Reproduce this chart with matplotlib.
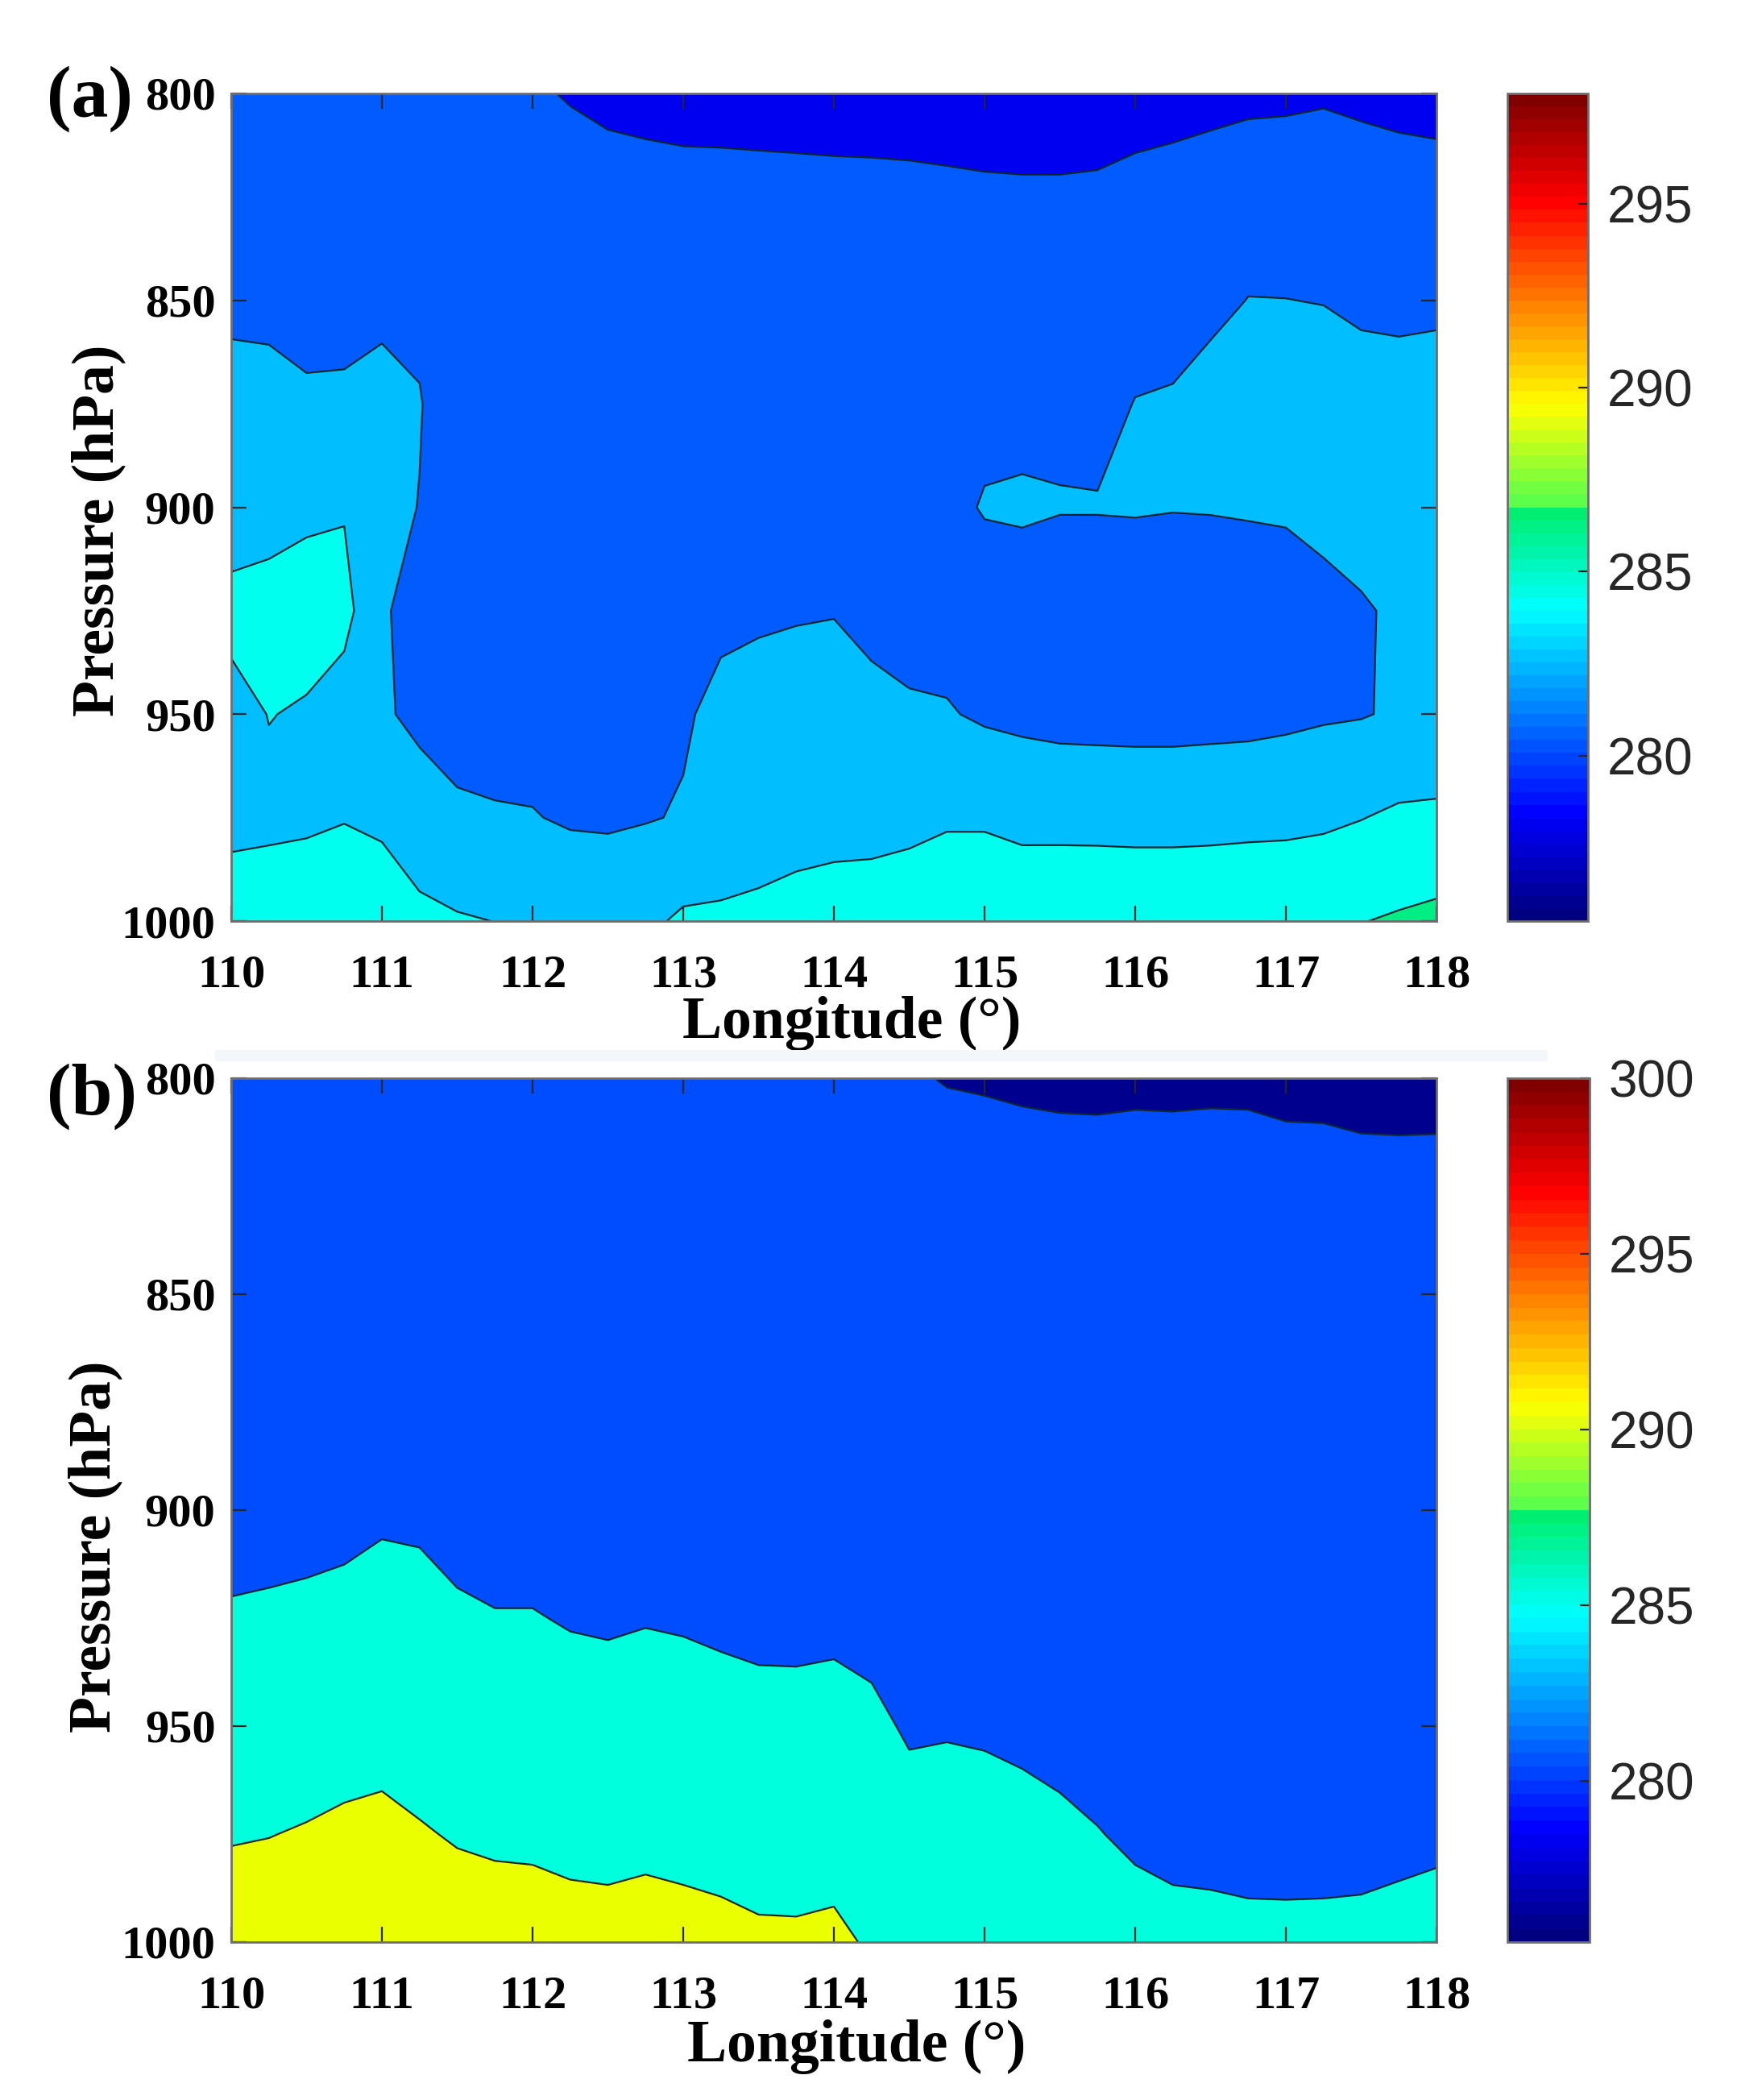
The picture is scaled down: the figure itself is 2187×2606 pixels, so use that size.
import numpy as np
import matplotlib
matplotlib.use("Agg")
import matplotlib.pyplot as plt
from matplotlib.colors import LinearSegmentedColormap, Normalize
from matplotlib.patches import Rectangle
import matplotlib.cm as cm

plt.rcParams['font.family'] = ['Liberation Serif', 'DejaVu Serif']
plt.rcParams['font.weight'] = 'bold'

# grid of the reanalysis section
lon = [110.0, 110.25, 110.5, 110.75, 111.0, 111.25, 111.5, 111.75,
       112.0, 112.25, 112.5, 112.75, 113.0, 113.25, 113.5, 113.75,
       114.0, 114.25, 114.5, 114.75, 115.0, 115.25, 115.5, 115.75,
       116.0, 116.25, 116.5, 116.75, 117.0, 117.25, 117.5, 117.75, 118.0]
pres = [800, 825, 850, 875, 900, 925, 950, 975, 1000]

# temperature (K), one list per longitude, from 800 down to 1000 hPa
temp_a_cols = [
    [281.0, 281.4, 281.7, 282.5, 283.0, 284.6, 283.3, 283.6, 284.8],
    [281.0, 281.3, 281.7, 282.4, 283.2, 284.8, 284.05, 283.57, 285.17],
    [281.0, 281.3, 281.6, 282.17, 283.7, 284.73, 283.83, 283.8, 284.8],
    [281.0, 281.3, 281.6, 282.2, 283.85, 284.67, 282.96, 283.95, 284.8],
    [281.0, 281.4, 281.8, 282.28, 282.6, 282.1, 282.4, 283.8, 284.65],
    [281.0, 281.3, 281.6, 282.1, 281.95, 281.68, 281.29, 283.5, 284.2],
    [280.8, 281.1, 281.0, 280.85, 281.0, 281.1, 281.3, 282.29, 284.17],
    [280.6, 281.0, 280.9, 280.9, 281.0, 281.1, 281.3, 282.14, 283.98],
    [280.25, 280.9, 280.9, 280.9, 281.0, 281.0, 281.3, 282.08, 283.5],
    [279.86, 281.0, 281.0, 281.0, 281.0, 281.0, 281.2, 281.8, 283.47],
    [279.46, 281.0, 281.0, 281.0, 281.0, 281.0, 281.2, 281.8, 283.08],
    [279.21, 281.0, 281.0, 281.0, 281.0, 281.1, 281.3, 281.9, 283.6],
    [278.96, 281.0, 281.0, 281.0, 281.0, 281.3, 281.84, 282.11, 284.31],
    [278.9, 281.0, 281.0, 281.0, 281.1, 281.72, 282.34, 283.0, 284.25],
    [278.77, 281.0, 281.0, 281.0, 281.2, 281.8, 282.56, 283.4, 284.28],
    [278.64, 281.0, 281.0, 281.1, 281.4, 281.9, 282.58, 283.5, 284.46],
    [278.47, 281.0, 281.0, 281.1, 281.5, 281.95, 282.58, 283.6, 284.53],
    [278.37, 281.0, 281.0, 281.2, 281.5, 281.6, 282.42, 283.6, 284.6],
    [278.16, 281.0, 281.0, 281.2, 281.5, 281.4, 282.2, 283.7, 284.7],
    [277.67, 281.0, 281.0, 281.2, 281.5, 281.3, 282.13, 283.85, 284.95],
    [276.9, 281.0, 281.2, 281.5, 282.13, 281.0, 281.76, 283.73, 285.7],
    [276.37, 281.0, 281.2, 281.3, 282.33, 280.65, 281.58, 283.49, 285.4],
    [276.37, 281.0, 281.2, 281.45, 282.15, 280.1, 281.42, 283.46, 285.49],
    [277.15, 281.0, 281.0, 281.21, 282.15, 280.1, 281.38, 283.44, 285.5],
    [278.64, 281.0, 280.98, 282.07, 282.2, 280.2, 281.35, 283.41, 285.46],
    [279.09, 281.0, 281.0, 282.24, 282.1, 280.15, 281.35, 283.41, 285.46],
    [279.44, 281.0, 281.5, 282.8, 282.15, 280.15, 281.41, 283.45, 285.49],
    [279.67, 281.0, 282.04, 282.8, 282.25, 280.36, 281.46, 283.51, 285.56],
    [279.72, 281.0, 282.02, 282.8, 282.4, 280.36, 281.61, 283.57, 285.53],
    [279.83, 281.0, 281.95, 283.0, 282.6, 281.37, 281.8, 283.7, 285.6],
    [279.63, 281.0, 281.7, 282.74, 282.9, 281.79, 281.9, 283.95, 285.95],
    [279.39, 281.0, 281.6, 282.74, 283.0, 282.31, 282.2, 284.3, 286.2],
    [279.21, 281.0, 281.7, 282.74, 283.0, 282.8, 282.31, 284.38, 286.45],
]

temp_b_cols = [
    [281.0, 281.5, 282.0, 282.5, 283.28, 285.43, 287.6, 289.76, 291.92],
    [281.0, 281.5, 282.0, 282.6, 283.46, 285.6, 287.77, 289.92, 292.08],
    [281.0, 281.5, 282.0, 282.7, 283.63, 285.81, 288.0, 290.25, 292.44],
    [281.0, 281.5, 282.1, 282.9, 283.86, 286.12, 288.39, 290.66, 292.93],
    [281.0, 281.6, 282.3, 283.3, 284.42, 286.57, 288.71, 290.85, 292.99],
    [281.0, 281.6, 282.3, 283.3, 284.31, 286.3, 288.28, 290.27, 292.26],
    [281.0, 281.5, 282.1, 282.8, 283.51, 285.58, 287.65, 289.73, 291.8],
    [281.0, 281.5, 282.0, 282.5, 283.02, 285.2, 287.33, 289.47, 291.61],
    [281.0, 281.5, 282.0, 282.6, 283.12, 285.19, 287.3, 289.4, 291.51],
    [281.0, 281.5, 282.0, 282.5, 283.2, 284.73, 286.91, 289.08, 291.26],
    [281.0, 281.5, 282.0, 282.5, 283.1, 284.55, 286.76, 288.96, 291.17],
    [281.0, 281.5, 282.0, 282.6, 283.3, 284.8, 286.99, 289.18, 291.37],
    [281.0, 281.5, 282.0, 282.6, 283.2, 284.63, 286.8, 288.98, 291.15],
    [281.0, 281.5, 282.0, 282.5, 283.1, 284.31, 286.52, 288.72, 290.93],
    [281.0, 281.5, 282.0, 282.5, 283.0, 284.06, 286.22, 288.39, 290.55],
    [281.0, 281.5, 282.0, 282.5, 283.0, 284.03, 286.19, 288.35, 290.51],
    [281.0, 281.5, 282.0, 282.5, 283.1, 284.17, 286.35, 288.53, 290.72],
    [281.0, 281.5, 282.0, 282.5, 283.1, 283.85, 285.77, 287.68, 289.6],
    [280.3, 281.5, 282.0, 282.5, 283.0, 283.5, 284.59, 286.46, 288.34],
    [279.86, 281.5, 282.0, 282.5, 283.0, 283.6, 284.72, 286.6, 288.47],
    [279.71, 281.5, 282.0, 282.5, 283.0, 283.5, 284.57, 286.45, 288.32],
    [279.47, 281.5, 282.0, 282.5, 283.0, 283.5, 284.26, 286.13, 288.0],
    [279.29, 281.5, 282.0, 282.4, 282.9, 283.3, 283.84, 285.72, 287.6],
    [279.23, 281.5, 282.0, 282.4, 282.8, 283.1, 283.3, 285.14, 287.0],
    [279.38, 281.5, 282.0, 282.4, 282.8, 283.2, 283.6, 284.4, 286.5],
    [279.33, 281.5, 282.0, 282.4, 282.8, 283.1, 283.4, 283.84, 286.3],
    [279.42, 281.5, 282.0, 282.4, 282.8, 283.1, 283.4, 283.72, 286.2],
    [279.38, 281.5, 282.0, 282.4, 282.8, 283.0, 283.2, 283.38, 286.1],
    [279.0, 281.5, 282.0, 282.4, 282.8, 283.0, 283.1, 283.29, 286.1],
    [278.93, 281.5, 282.0, 282.4, 282.8, 283.0, 283.2, 283.38, 286.1],
    [278.43, 281.5, 282.0, 282.4, 282.8, 283.0, 283.2, 283.47, 286.2],
    [278.32, 281.5, 282.0, 282.4, 282.8, 283.1, 283.4, 283.92, 286.4],
    [278.4, 281.5, 282.0, 282.4, 282.8, 283.2, 283.6, 284.27, 286.6],
]

levels_a = [270, 280, 282, 284, 286, 296]
levels_b = [270, 280, 285, 290, 300]
colors_a = ['#0000F0', '#005CFF', '#00BEFF', '#00FFEE', '#00EE84']
colors_b = ['#00008E', '#004CFF', '#00FFDC', '#EAFF00']
cbar_ticks_a = [280, 285, 290, 295]
cbar_ticks_b = [280, 285, 290, 295, 300]
clim_a = (275.5, 298.0)
clim_b = (275.4, 300.0)

# jet-like map, as in the colour bars of the figure
jet_mod = LinearSegmentedColormap.from_list('jet_mod', [
    (0.0, (0, 0, 0.5)), (0.125, (0, 0, 1)), (0.375, (0, 1, 1)),
    (0.505, (0, 0.93, 0.38)), (0.505, (0.35, 1, 0.3)), (0.625, (1, 1, 0)),
    (0.875, (1, 0, 0)), (1.0, (0.5, 0, 0))], N=64)

W, H = 2187, 2606
fig = plt.figure(figsize=(W / 100, H / 100), dpi=100)
# faint seam between the two panels
fig.add_artist(Rectangle((267 / W, 1 - 1317 / H), 1654 / W, 14 / H,
                         transform=fig.transFigure, facecolor='#F3F7FB', edgecolor='none'))
ax_a = fig.add_axes([287 / W, 1 - 1143 / H, 1496 / W, 1027 / H])
cax_a = fig.add_axes([1871 / W, 1 - 1143 / H, 100 / W, 1027 / H])
ax_b = fig.add_axes([287 / W, 1 - 2410 / H, 1496 / W, 1072 / H])
cax_b = fig.add_axes([1871 / W, 1 - 2410 / H, 102 / W, 1072 / H])

panels = [(ax_a, cax_a, temp_a_cols, levels_a, colors_a, cbar_ticks_a, clim_a, '(a)', 123, (-0.110, 0.472), (0.515, -0.124)),
          (ax_b, cax_b, temp_b_cols, levels_b, colors_b, cbar_ticks_b, clim_b, '(b)', 1361, (-0.113, 0.458), (0.519, -0.121))]

for ax, cax, cols, lev, colr, cticks, clim, tag, tag_y, ylab_xy, xlab_xy in panels:
    T = np.array(cols).T
    ax.contourf(lon, pres, T, levels=lev, colors=colr)
    ax.contour(lon, pres, T, levels=lev[1:-1], colors='#10262c', linewidths=1.6)
    ax.set_xlim(110, 118)
    ax.set_ylim(1000, 800)
    ax.set_xticks(range(110, 119))
    ax.set_yticks([800, 850, 900, 950, 1000])
    ax.tick_params(direction='in', top=True, right=True, length=14, width=1.6,
                   color='#262626', labelsize=42)
    ax.tick_params(axis='x', pad=30)
    ax.tick_params(axis='y', pad=14)
    for sp in ax.spines.values():
        sp.set_color('#6e6e6e')
        sp.set_linewidth(2)
    ax.set_xlabel('Longitude (°)', fontsize=53, fontweight='bold', va='center')
    ax.set_ylabel('Pressure (hPa)', fontsize=53, fontweight='bold', va='center', ha='center')
    ax.xaxis.set_label_coords(*xlab_xy)
    ax.yaxis.set_label_coords(*ylab_xy)
    fig.text(58 / W, 1 - tag_y / H, tag, fontsize=66, fontweight='bold', ha='left', va='center')

    sm = cm.ScalarMappable(norm=Normalize(*clim), cmap=jet_mod)
    cb = fig.colorbar(sm, cax=cax, ticks=cticks)
    cb.outline.set_edgecolor('#6e6e6e')
    cb.outline.set_linewidth(2)
    cax.tick_params(direction='in', length=9, width=1.6, color='#262626', pad=17,
                    labelsize=46, labelcolor='#262626')
    for lab in cax.get_yticklabels():
        lab.set_fontfamily(['Liberation Sans', 'DejaVu Sans'])
        lab.set_fontweight('normal')

fig.savefig('out.png', dpi=100)
